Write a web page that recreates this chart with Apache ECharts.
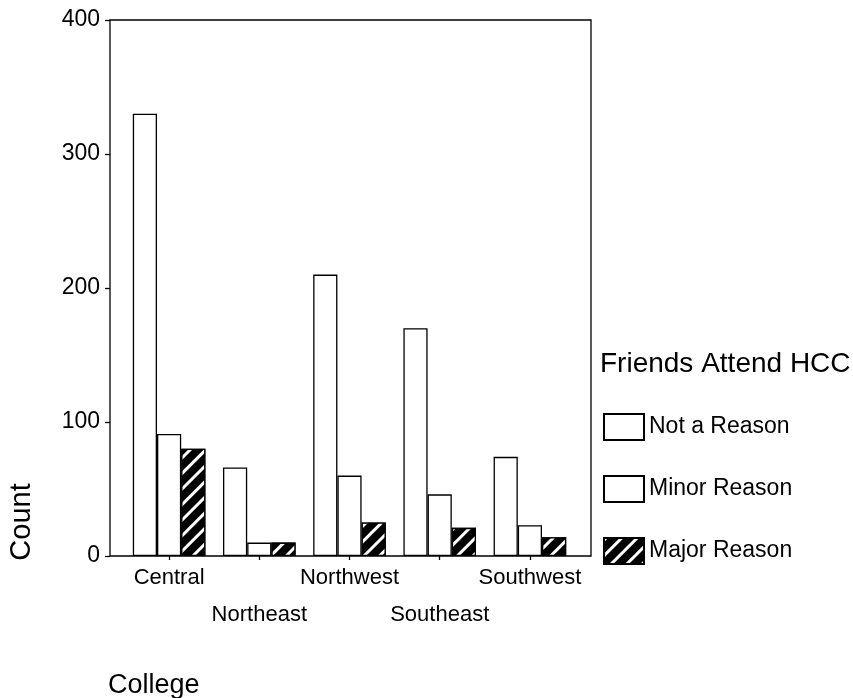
<!DOCTYPE html>
<html>
<head>
<meta charset="utf-8">
<script src="https://cdn.jsdelivr.net/npm/echarts@6/dist/echarts.min.js"></script>
<style>
html,body{margin:0;padding:0;background:#fff;}
#chart{width:853px;height:698px;}
</style>
</head>
<body>
<div id="chart"></div>
<script>
var categories = ['Central', 'Northeast', 'Northwest', 'Southeast', 'Southwest'];
var seriesNames = ['Not a Reason', 'Minor Reason', 'Major Reason'];
var notAReason = [330, 66, 210, 170, 74];
var minorReason = [91, 10, 60, 46, 23];
var majorReason = [80, 10, 25, 21, 14];
var yTicks = [0, 100, 200, 300, 400];

var FONT = 'Liberation Sans, Arial, sans-serif';
var chart = echarts.init(document.getElementById('chart'));

var plainStyle = { color: '#fff', borderColor: '#000', borderWidth: 1.3 };
var hatchStyle = {
  color: '#000', borderColor: '#000', borderWidth: 1.3,
  decal: {
    symbol: 'rect', symbolSize: 1, color: '#fff',
    dashArrayX: [1, 0], dashArrayY: [2.2, 7.8], rotation: -Math.PI / 4
  }
};

function barSeries(name, data, style) {
  return {
    name: name, type: 'bar', data: data, xAxisIndex: 0, yAxisIndex: 0,
    barWidth: 24.2, barGap: '0%', itemStyle: style,
    emphasis: { disabled: true }, animation: false
  };
}

chart.setOption({
  animation: false,
  backgroundColor: '#fff',
  textStyle: { fontFamily: FONT, color: '#000' },
  title: [
    { text: 'Friends Attend HCC', left: 595, top: 345,
      textStyle: { fontFamily: FONT, fontSize: 28, fontWeight: 'normal', color: '#000' } },
    { text: 'College', left: 103, top: 667,
      textStyle: { fontFamily: FONT, fontSize: 27, fontWeight: 'normal', color: '#000' } }
  ],
  graphic: [
    { type: 'text', x: 22, y: 522, rotation: Math.PI / 2,
      style: { text: 'Count', font: '29px ' + FONT, fill: '#000',
               textAlign: 'center', textVerticalAlign: 'middle' } }
  ],
  legend: {
    orient: 'vertical', left: 598, top: 408,
    itemWidth: 40, itemHeight: 26, itemGap: 34,
    icon: 'rect',
    data: seriesNames,
    textStyle: { fontFamily: FONT, fontSize: 23, color: '#000' },
    selectedMode: false
  },
  grid: [
    { left: 124, right: 278, top: 20, bottom: 142, containLabel: false },
    { left: 110, right: 262, top: 20, bottom: 142, show: true,
      borderColor: '#000', borderWidth: 1.3, backgroundColor: 'transparent' }
  ],
  xAxis: [
    { type: 'category', gridIndex: 0, data: categories,
      axisLine: { show: false },
      axisTick: { show: true, alignWithLabel: true, length: 4, lineStyle: { color: '#000', width: 1.3 } },
      axisLabel: { fontFamily: FONT, fontSize: 22, color: '#000', margin: 3, lineHeight: 37,
        interval: 0, hideOverlap: false,
        formatter: function (v, i) { return i % 2 ? '\n' + v : v; } } },
    { type: 'value', gridIndex: 1, show: false }
  ],
  yAxis: [
    { type: 'value', gridIndex: 0, min: 0, max: 400, interval: 100, offset: 14,
      axisLine: { show: false },
      axisTick: { show: true, length: 5, lineStyle: { color: '#000', width: 1.3 } },
      splitLine: { show: false },
      axisLabel: { fontFamily: FONT, fontSize: 23, color: '#000', margin: 10,
        formatter: function (v) { return yTicks.indexOf(v) >= 0 ? String(v) : ''; } } },
    { type: 'value', gridIndex: 1, show: false }
  ],
  series: [
    barSeries(seriesNames[0], notAReason, plainStyle),
    barSeries(seriesNames[1], minorReason, plainStyle),
    barSeries(seriesNames[2], majorReason, hatchStyle)
  ]
});
</script>
</body>
</html>
